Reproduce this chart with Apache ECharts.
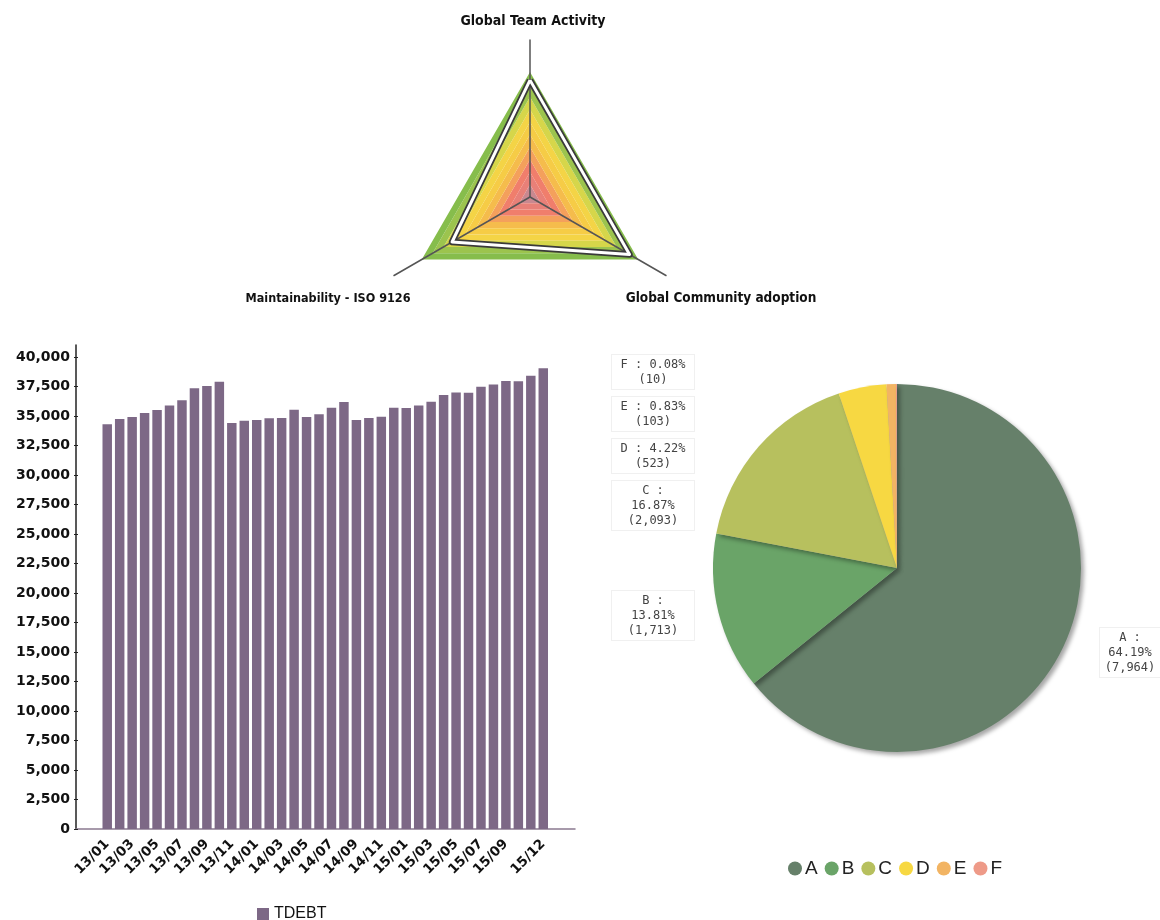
<!DOCTYPE html>
<html>
<head>
<meta charset="utf-8">
<script src="https://cdn.jsdelivr.net/npm/echarts@6/dist/echarts.min.js"></script>
<style>html,body{margin:0;padding:0;background:#fff}#c{width:1160px;height:920px}</style>
</head>
<body>
<div id="c"></div>
<script>
// Radar data
const radarIndicators = ['Global Team Activity', 'Maintainability - ISO 9126', 'Global Community adoption'];
const radarMax = 10;
const radarValues = [9.35, 7.2, 9.2];
const radarBandColors = ['#c98890', '#e88078', '#f07e6c', '#f4a05c', '#f5bc4c', '#f6cc46', '#f4d446', '#d6d64a', '#9cc44e', '#86bd4c'];

// Bar data
const months = ['13/01','13/02','13/03','13/04','13/05','13/06','13/07','13/08','13/09','13/10','13/11','13/12',
                '14/01','14/02','14/03','14/04','14/05','14/06','14/07','14/08','14/09','14/10','14/11','14/12',
                '15/01','15/02','15/03','15/04','15/05','15/06','15/07','15/08','15/09','15/10','15/11','15/12'];
const tdebt = [34300, 34750, 34920, 35250, 35500, 35900, 36330, 37350, 37540, 37900, 34400, 34600,
               34660, 34800, 34830, 35530, 34920, 35140, 35700, 36190, 34660, 34830, 34940, 35700,
               35680, 35900, 36210, 36780, 37000, 36980, 37480, 37680, 37970, 37940, 38420, 39040];
const yTicks = [0, 40000, 2500];

// Pie data
const pieNames = ['A', 'B', 'C', 'D', 'E', 'F'];
const pieValues = [7964, 1713, 2093, 523, 103, 10];
const pieColors = ['#66806a', '#6aa468', '#b7c05e', '#f7d842', '#f2b463', '#ee9a88'];

const fmt = v => Number(v).toLocaleString('en-US');

const chart = echarts.init(document.getElementById('c'), null, {renderer: 'canvas'});

const nameFont = '"Liberation Sans Narrow","DejaVu Sans Condensed","Liberation Sans",sans-serif';

chart.setOption({
  animation: false,
  backgroundColor: '#fff',
  title: [
    {text: radarIndicators[0], left: 528, top: 9, textAlign: 'center',
     textStyle: {fontFamily: nameFont, fontSize: 14, fontWeight: 'bold', color: '#111'}},
    {text: radarIndicators[1], left: 323, top: 287, textAlign: 'center',
     textStyle: {fontFamily: nameFont, fontSize: 12.5, fontWeight: 'bold', color: '#111'}},
    {text: radarIndicators[2], left: 716, top: 286, textAlign: 'center',
     textStyle: {fontFamily: nameFont, fontSize: 13.5, fontWeight: 'bold', color: '#111'}}
  ],
  legend: [
    {data: ['TDEBT'], left: 252, top: 901, icon: 'rect', itemWidth: 12, itemHeight: 12,
     textStyle: {fontFamily: 'Liberation Sans', fontSize: 16, color: '#111'}},
    {data: pieNames, left: 783, top: 854, icon: 'circle', itemWidth: 14, itemHeight: 14, itemGap: 7,
     textStyle: {fontFamily: 'Liberation Sans', fontSize: 19, color: '#222', padding: [0, 0, 0, -2]}}
  ],
  radar: [
    {
      center: [530, 197], radius: 125, startAngle: 90, splitNumber: 10, shape: 'polygon',
      indicator: radarIndicators.map(n => ({name: n, max: radarMax, min: 0})),
      axisName: {show: false},
      axisLine: {show: false},
      splitLine: {show: false},
      splitArea: {show: true, areaStyle: {color: radarBandColors, opacity: 1}}
    },
    {
      center: [530, 197], radius: 157, startAngle: 90, shape: 'polygon',
      indicator: radarIndicators.map(n => ({name: n, max: radarMax, min: 0})),
      axisName: {show: false},
      axisLine: {show: true, lineStyle: {color: '#555', width: 1.5}},
      splitLine: {show: false},
      splitArea: {show: false}
    }
  ],
  grid: [
    {left: 101, width: 448.5, top: 357, bottom: 91},
    {left: 76, right: 585, top: 345, bottom: 91}
  ],
  xAxis: [
    {type: 'category', gridIndex: 0, data: months, boundaryGap: true,
     axisLine: {show: false}, axisTick: {show: false},
     axisLabel: {rotate: 45, margin: 13, fontFamily: 'DejaVu Sans', fontWeight: 'bold', fontSize: 13.5, color: '#111',
       interval: (i) => (i % 2 === 0 && i <= 32) || i === 35}},
    {type: 'value', gridIndex: 1, min: 0, max: 1,
     axisLine: {show: true, lineStyle: {color: '#8a7a90', width: 1.5}},
     axisTick: {show: false}, axisLabel: {show: false}, splitLine: {show: false}}
  ],
  yAxis: [
    {type: 'value', gridIndex: 0, min: yTicks[0], max: yTicks[1], interval: yTicks[2], offset: 23,
     axisLine: {show: false},
     axisTick: {show: true, length: 4, lineStyle: {color: '#222'}},
     splitLine: {show: false},
     axisLabel: {formatter: v => fmt(v), fontFamily: 'DejaVu Sans', fontWeight: 'bold', fontSize: 14, color: '#111', margin: 8}},
    {type: 'value', gridIndex: 1, min: 0, max: 1,
     axisLine: {show: true, lineStyle: {color: '#222', width: 1.5}},
     axisTick: {show: false}, axisLabel: {show: false}, splitLine: {show: false}}
  ],
  series: [
    {name: 'TDEBT', type: 'bar', xAxisIndex: 0, yAxisIndex: 0, data: tdebt,
     barCategoryGap: '24%', itemStyle: {color: '#7d6886'}},
    {name: 'radarOutline', type: 'radar', radarIndex: 0, symbol: 'none', z: 3,
     data: [{value: radarValues}],
     lineStyle: {color: '#3a3a3a', width: 6.5}, areaStyle: {opacity: 0}},
    {name: 'radarInner', type: 'radar', radarIndex: 0, symbol: 'none', z: 4,
     data: [{value: radarValues}],
     lineStyle: {color: '#ffffff', width: 3}},
    {name: 'Rating', type: 'pie', left: 612, right: 0, top: 0, bottom: 0,
     center: [285, 568], radius: 184, startAngle: 90, clockwise: true,
     data: pieNames.map((n, i) => ({name: n, value: pieValues[i], itemStyle: {color: pieColors[i]},
       label: i === 0 ? {width: 54} : {}})),
     itemStyle: {shadowBlur: 4, shadowOffsetX: 3, shadowOffsetY: 3, shadowColor: 'rgba(0,0,0,0.35)'},
     labelLine: {show: false, length: 12, length2: 0},
     label: {
       show: true, position: 'outside', alignTo: 'edge', edgeDistance: 0, minMargin: 6,
       width: 76, backgroundColor: '#fff', borderColor: '#f0f0f0', borderWidth: 1, padding: [2, 3],
       formatter: p => {
         const pct = p.percent.toFixed(2) + '%';
         return p.percent >= 10
           ? '{t|' + p.name + ' :}\n{t|' + pct + '}\n{t|(' + fmt(p.value) + ')}'
           : '{t|' + p.name + ' : ' + pct + '}\n{t|(' + fmt(p.value) + ')}';
       },
       rich: {t: {align: 'center', fontFamily: 'DejaVu Sans Mono', fontSize: 12, lineHeight: 15, color: '#444'}}
     },
     emphasis: {disabled: true}}
  ]
});
</script>
</body>
</html>
